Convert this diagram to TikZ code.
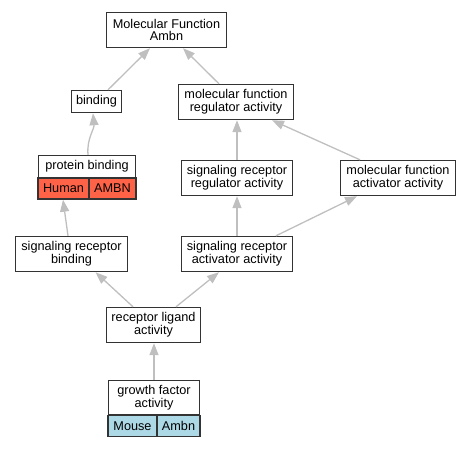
\documentclass[tikz,border=0pt]{standalone}
\usepackage{fontspec}
\setmainfont{Liberation Sans}
\usetikzlibrary{arrows.meta}
\definecolor{humanred}{HTML}{FF6347}
\definecolor{mouseblue}{HTML}{ADD8E6}
\tikzset{term/.style={draw=black!80, line width=1.4pt, fill=white, align=center,
      inner sep=0pt, minimum height=35pt, font=\fontsize{12.7}{12.7}\selectfont}}
\tikzset{cell/.style={term, minimum height=21pt}}
\tikzset{isa/.style={draw=black!25, line width=1.3pt,
      -{Triangle[length=12pt,width=9pt]}}}

\begin{document}
\begin{tikzpicture}[x=1pt,y=-1pt]
    \useasboundingbox (0,0) rectangle (471,448);
    % terms
    \node[term, minimum width=120pt] (mf) at (166.5,30) {Molecular Function\\Ambn};
    \node[term, minimum width=50pt, minimum height=22pt] (bind) at (96.5,101.5) {binding};
    \node[term, minimum width=115pt] (mfra) at (236,102) {molecular function\\regulator activity};
    \node[term, minimum width=97pt, minimum height=22pt] (pb) at (87,166.5) {protein binding};
    \node[cell, fill=humanred, minimum width=51pt] (pbH) at (63.5,188.5) {Human};
    \node[cell, fill=humanred, minimum width=47pt] (pbA) at (112.5,188.5) {AMBN};
    \node[term, minimum width=111pt] (srra) at (237,178) {signaling receptor\\regulator activity};
    \node[term, minimum width=115pt] (mfaa) at (398,178) {molecular function\\activator activity};
    \node[term, minimum width=112pt] (srb) at (71.5,254) {signaling receptor\\binding};
    \node[term, minimum width=111pt] (sraa) at (237,254) {signaling receptor\\activator activity};
    \node[term, minimum width=94pt] (rla) at (153.5,325) {receptor ligand\\activity};
    \node[term, minimum width=91pt, minimum height=34pt] (gfa) at (154,397.5) {growth factor\\activity};
    \node[cell, fill=mouseblue, minimum width=49pt] (gfaM) at (132.5,426) {Mouse};
    \node[cell, fill=mouseblue, minimum width=43pt] (gfaA) at (178.5,426) {Ambn};
    % is_a links
    \draw[isa] ([xshift=11.5pt]bind.north) -- ([xshift=-16.5pt]mf.south);
    \draw[isa] ([xshift=-17pt]mfra.north) -- ([xshift=16.5pt]mf.south);
    \draw[isa] ([xshift=1pt]pb.north) to[out=95,in=-85] ([xshift=-3.5pt]bind.south);
    \draw[isa] (srra.north) -- (srra.north |- mfra.south);
    \draw[isa] ([xshift=-38pt]mfaa.north) -- ([xshift=36pt]mfra.south);
    \draw[isa] ([xshift=-3.5pt]srb.north) -- ([xshift=-0.5pt]pbH.south);
    \draw[isa] (sraa.north) -- (sraa.north |- srra.south);
    \draw[isa] ([xshift=39pt]sraa.north) -- ([xshift=-41pt]mfaa.south);
    \draw[isa] ([xshift=-20.5pt]rla.north) -- ([xshift=24pt]srb.south);
    \draw[isa] ([xshift=22.5pt]rla.north) -- ([xshift=-18pt]sraa.south);
    \draw[isa] (gfa.north) -- (gfa.north |- rla.south);
\end{tikzpicture}
\end{document}
